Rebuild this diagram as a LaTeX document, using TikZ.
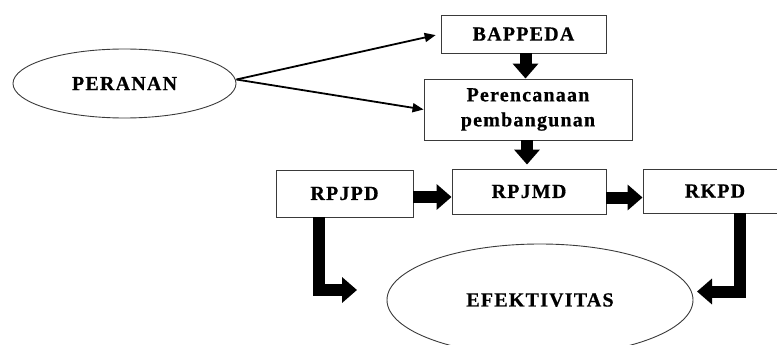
\documentclass[tikz,border=0pt]{standalone}
\usepackage{fontspec}
\usetikzlibrary{shapes.geometric,arrows.meta}
\newfontfamily\boxfont{Liberation Serif}[BoldFont={Liberation Serif Bold}, BoldFeatures={FakeBold=0.6}, LetterSpace=6]
\definecolor{edgegray}{HTML}{3a3a3a}
\tikzset{
  box/.style={draw=edgegray, line width=0.9pt, inner sep=0pt, align=center,
    font=\boxfont\bfseries\fontsize{20}{25}\selectfont},
  oval/.style={box, ellipse},
  thinarrow/.style={-{Triangle[length=11pt,width=9pt]}, line width=1.8pt},
  blockarrow/.style={-{Triangle[length=15pt,width=25pt]}, line width=12pt},
}

\begin{document}
\begin{tikzpicture}[x=1pt,y=-1pt]
    \useasboundingbox (0,0) rectangle (777,345);
    \node[oval, minimum width=223pt, minimum height=69pt] (peranan) at (124.5,83.5) {PERANAN};
    \node[box, minimum width=165pt, minimum height=38pt] (bappeda) at (523.5,34) {BAPPEDA};
    \node[box, minimum width=208pt, minimum height=61pt] (perencanaan) at (528,109.5) {Perencanaan\\pembangunan};
    \node[box, minimum width=137pt, minimum height=47pt] (rpjpd) at (344.5,193.5) {RPJPD};
    \node[box, minimum width=154pt, minimum height=45pt] (rpjmd) at (529,191.5) {RPJMD};
    \node[box, minimum width=144pt, minimum height=44pt] (rkpd) at (715,191) {RKPD};
    \node[oval, minimum width=306pt, minimum height=112pt] (efektivitas) at (540,300) {EFEKTIVITAS};
    \coordinate (leftin) at (357,290);
    \coordinate (rightin) at (697,291.5);
    \draw[thinarrow, shorten >=5pt] ([yshift=4pt]peranan.east) -- (bappeda.west);
    \draw[thinarrow] ([yshift=4pt]peranan.east) -- (perencanaan.west);
    \draw[blockarrow] ([xshift=2pt]bappeda.south) -- ([xshift=2pt]bappeda.south |- perencanaan.north);
    \draw[blockarrow, shorten >=4pt] ([xshift=-1pt]perencanaan.south) -- ([xshift=-1pt]perencanaan.south |- rpjmd.north);
    \draw[blockarrow] ([yshift=-3.5pt]rpjpd.east) -- ([yshift=-3.5pt]rpjpd.east -| rpjmd.west);
    \draw[blockarrow] ([yshift=-6pt]rpjmd.east) -- ([yshift=-6pt]rpjmd.east -| rkpd.west);
    \draw[blockarrow] ([xshift=-25.5pt]rpjpd.south) |- (leftin);
    \draw[blockarrow] ([xshift=24.5pt]rkpd.south) |- (rightin);
\end{tikzpicture}
\end{document}
